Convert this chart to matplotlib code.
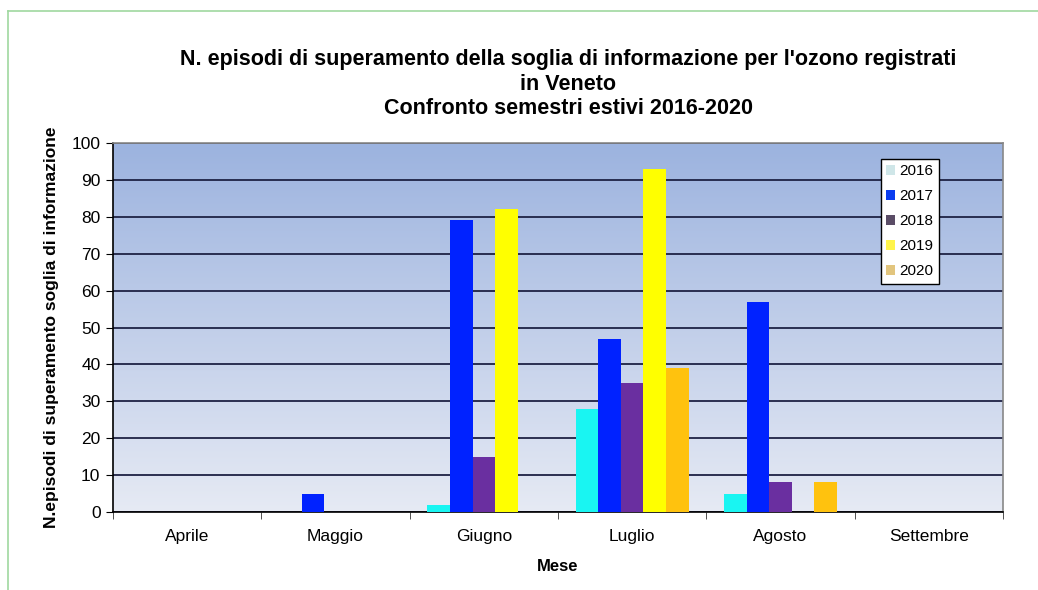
import matplotlib
matplotlib.use("Agg")
import matplotlib.pyplot as plt
import numpy as np
from matplotlib.patches import Patch
from matplotlib.lines import Line2D
from matplotlib.colors import LinearSegmentedColormap

plt.rcParams['font.family'] = ['Liberation Sans', 'DejaVu Sans']

months = ["Aprile", "Maggio", "Giugno", "Luglio", "Agosto", "Settembre"]
years = ["2016", "2017", "2018", "2019", "2020"]
v2016 = [0, 0, 2, 28, 5, 0]
v2017 = [0, 5, 79, 47, 57, 0]
v2018 = [0, 0, 15, 35, 8, 0]
v2019 = [0, 0, 82, 93, 0, 0]
v2020 = [0, 0, 0, 39, 8, 0]
series = [v2016, v2017, v2018, v2019, v2020]
bar_colors = ["#19F5F2", "#0022FF", "#6A2FA0", "#FFFF00", "#FFC20E"]
legend_colors = ["#CFE6E8", "#0A3CF0", "#5A4C66", "#FFF44A", "#E2C57E"]

fig = plt.figure(figsize=(10.38, 5.90), dpi=100)
ax = fig.add_axes([113/1038, 1 - 512/590, (1003-113)/1038, (512-143)/590])

# gradient background
grad = np.linspace(0, 1, 256).reshape(-1, 1)
cmap = LinearSegmentedColormap.from_list("bg", ["#E6EAF4", "#9CB3DF"])
ax.imshow(grad, aspect='auto', cmap=cmap, origin='lower',
          extent=[0, 1, 0, 1], transform=ax.transAxes, zorder=0)

x = np.arange(len(months))
w = 0.152
for i, (vals, c) in enumerate(zip(series, bar_colors)):
    ax.bar(x + (i - 2) * w, vals, width=w, color=c, zorder=3, linewidth=0)

ax.set_xlim(-0.5, len(months) - 0.5)
ax.set_ylim(0, 100)
ax.set_yticks(np.arange(0, 101, 10))
ax.yaxis.grid(True, color="#1E2244", linewidth=1.3, zorder=1)
ax.set_axisbelow(True)
ax.set_xticks(x)
ax.set_xticklabels(months, fontsize=12.5)
ax.tick_params(axis='x', length=0, pad=12)
ax.set_xticks(np.arange(-0.5, len(months) - 0.4, 1), minor=True)
ax.tick_params(axis='x', which='minor', length=5, direction='out', color='#333333')
ax.tick_params(axis='y', labelsize=12.5, length=5, direction='out', pad=4)
for s in ['left', 'bottom']:
    ax.spines[s].set_color('black')
    ax.spines[s].set_linewidth(1.2)
for s in ['top', 'right']:
    ax.spines[s].set_color('#888888')
    ax.spines[s].set_linewidth(1.2)

ax.set_xlabel("Mese", fontsize=12, fontweight='bold', labelpad=11)
ax.set_ylabel("N.episodi di superamento soglia di informazione", fontsize=12.5,
              fontweight='bold', labelpad=9)

fig.text(568/1038, 1 - 84/590,
         "N. episodi di superamento della soglia di informazione per l'ozono registrati\n"
         "in Veneto\nConfronto semestri estivi 2016-2020",
         ha='center', va='center', fontsize=15.5, fontweight='bold', linespacing=1.22)

handles = [Patch(facecolor=c, edgecolor='none', label=y) for c, y in zip(legend_colors, years)]
leg = ax.legend(handles=handles, loc='upper left', bbox_to_anchor=((881-113)/890, (512-159)/369),
                fontsize=11, frameon=True, fancybox=False, handlelength=0.55, handleheight=0.55,
                handletextpad=0.3, borderpad=0.35, labelspacing=0.72, borderaxespad=0)
leg.get_frame().set_edgecolor('black')
leg.get_frame().set_linewidth(1.0)
leg.get_frame().set_facecolor('white')
leg.get_frame().set_alpha(1)

# green border of the chart area
fig.add_artist(Line2D([8/1038, 8/1038], [0, 1 - 11/590], color='#A0D8A0', linewidth=1.2,
                      transform=fig.transFigure))
fig.add_artist(Line2D([8/1038, 1], [1 - 11/590, 1 - 11/590], color='#A0D8A0', linewidth=1.2,
                      transform=fig.transFigure))

fig.savefig("out.png", dpi=100, facecolor='white')
